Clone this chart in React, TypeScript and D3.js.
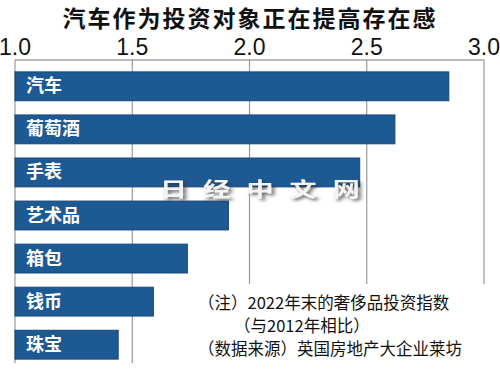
import * as d3 from "d3";
import React, { useEffect, useRef } from "react";

const title = "汽车作为投资对象正在提高存在感";
const categories = ["汽车", "葡萄酒", "手表", "艺术品", "箱包", "钱币", "珠宝"];
const values = [2.85, 2.62, 2.47, 1.91, 1.735, 1.59, 1.44];
const ticks = [1.0, 1.5, 2.0, 2.5, 3.0];
const notes = [
  "（注）2022年末的奢侈品投资指数",
  "（与2012年相比）",
  "（数据来源）英国房地产大企业莱坊",
];
const watermark = "日经中文网";

const width = 500;
const height = 369;

export default function App() {
  const ref = useRef<SVGSVGElement>(null);

  useEffect(() => {
    const svg = d3.select(ref.current);
    svg.selectAll("*").remove();

    const x = d3.scaleLinear().domain([1, 3]).range([15, 484]);
    const y = d3
      .scaleBand()
      .domain(categories)
      .range([65, 366])
      .paddingInner(0.33)
      .paddingOuter(0.16);

    svg.append("rect").attr("width", width).attr("height", height).attr("fill", "#fff");

    // title
    svg
      .append("text")
      .attr("x", 250)
      .attr("y", 27)
      .attr("text-anchor", "middle")
      .attr("font-family", "Noto Sans CJK SC")
      .attr("font-weight", "bold")
      .attr("font-size", 23)
      .attr("letter-spacing", 2)
      .attr("fill", "#111")
      .text(title);

    // grid lines
    svg
      .append("g")
      .selectAll("line")
      .data(ticks)
      .enter()
      .append("line")
      .attr("x1", (d) => x(d))
      .attr("x2", (d) => x(d))
      .attr("y1", 60)
      .attr("y2", 363)
      .attr("stroke", "#9a9a9a")
      .attr("stroke-width", 1.2);

    // top axis line
    svg
      .append("line")
      .attr("x1", x(1))
      .attr("x2", x(3))
      .attr("y1", 60)
      .attr("y2", 60)
      .attr("stroke", "#777")
      .attr("stroke-width", 1.2);

    svg
      .append("g")
      .selectAll("text")
      .data(ticks)
      .enter()
      .append("text")
      .attr("x", (d) => x(d))
      .attr("y", 55)
      .attr("text-anchor", "middle")
      .attr("font-family", "Liberation Sans Narrow, Liberation Sans, sans-serif")
      .attr("font-size", 23)
      .attr("fill", "#111")
      .text((d) => d.toFixed(1));

    // bars
    svg
      .append("g")
      .selectAll("rect")
      .data(categories)
      .enter()
      .append("rect")
      .attr("x", x(1))
      .attr("y", (d) => y(d))
      .attr("width", (d, i) => x(values[i]) - x(1))
      .attr("height", y.bandwidth())
      .attr("fill", "#1d5a93")
      .attr("stroke", "#17457a")
      .attr("stroke-width", 1);

    svg
      .append("g")
      .selectAll("text")
      .data(categories)
      .enter()
      .append("text")
      .attr("x", 26)
      .attr("y", (d) => y(d) + y.bandwidth() / 2 + 6)
      .attr("font-family", "Noto Sans CJK SC")
      .attr("font-weight", "bold")
      .attr("font-size", 18)
      .attr("fill", "#fff")
      .text((d) => d);

    // watermark
    const defs = svg.append("defs");
    const f = defs.append("filter").attr("id", "wm");
    f.append("feDropShadow")
      .attr("dx", 2)
      .attr("dy", 2)
      .attr("stdDeviation", 1.5)
      .attr("flood-color", "#333")
      .attr("flood-opacity", 0.8);
    svg
      .append("text")
      .attr("transform", "translate(160,197) scale(1.35,1)")
      .attr("font-family", "Noto Sans CJK SC")
      .attr("font-weight", "bold")
      .attr("font-size", 20)
      .attr("letter-spacing", 12)
      .attr("fill", "#f4f4f4")
      .attr("filter", "url(#wm)")
      .text(watermark);

    // note box
    svg
      .append("rect")
      .attr("x", 190)
      .attr("y", 284)
      .attr("width", width - 190)
      .attr("height", height - 284)
      .attr("fill", "#fff");

    const noteX = [198, 234, 198];
    const noteY = [309, 332, 355];
    svg
      .append("g")
      .selectAll("text")
      .data(notes)
      .enter()
      .append("text")
      .attr("x", (d, i) => noteX[i])
      .attr("y", (d, i) => noteY[i])
      .attr("font-family", "Noto Sans CJK SC")
      .attr("font-size", 16.5)
      .attr("fill", "#111")
      .text((d) => d);
  }, []);

  return (
    <svg
      ref={ref}
      width={width}
      height={height}
      style={{ position: "absolute", left: 0, top: 0 }}
    />
  );
}
